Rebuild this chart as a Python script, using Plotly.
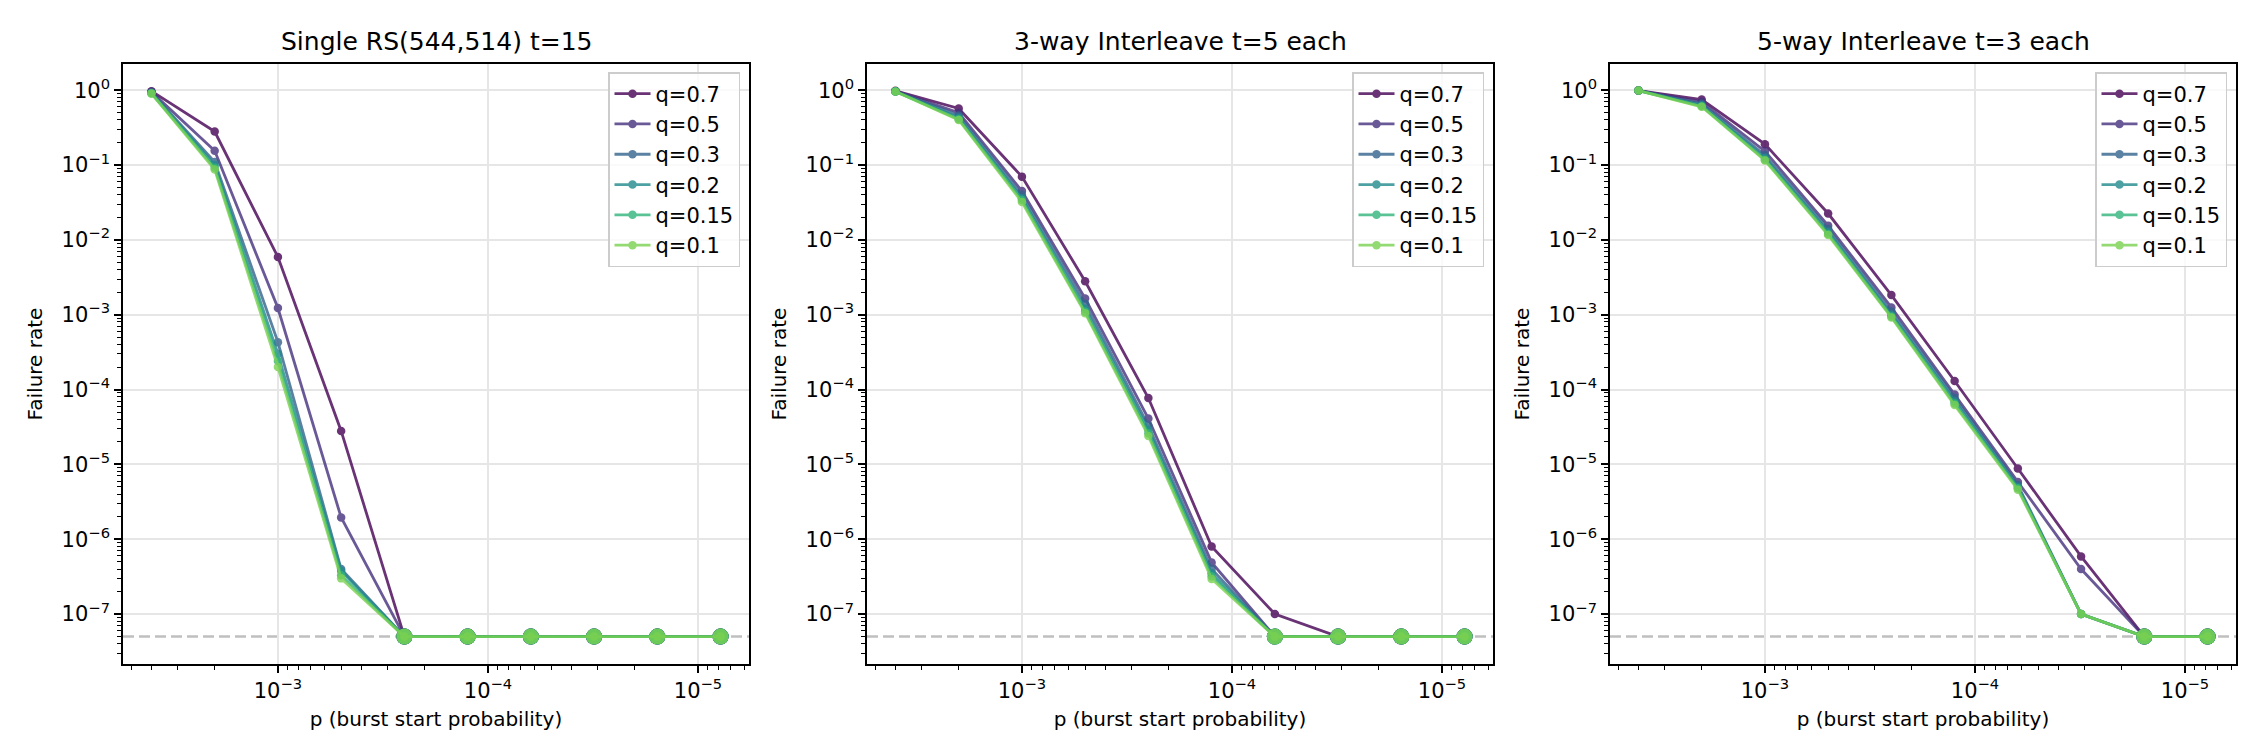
import numpy as np
import plotly.graph_objects as go

# burst start probability (halving each step)
p_vals = [4e-3, 2e-3, 1e-3, 5e-4, 2.5e-4, 1.25e-4, 6.25e-5, 3.125e-5, 1.5625e-5, 7.8125e-6]
q_labels = ["q=0.7", "q=0.5", "q=0.3", "q=0.2", "q=0.15", "q=0.1"]
q_colors = ["#440154", "#46307e", "#33638d", "#238a8d", "#31b57b", "#7ad151"]

FLOOR = 5e-8  # zero failures are drawn at this level

titles = ["Single RS(544,514) t=15", "3-way Interleave t=5 each", "5-way Interleave t=3 each"]

# failure rate, one list per q (0 = no failures observed)
single_q07 = [0.97, 0.28, 5.9e-3, 2.8e-5, 0, 0, 0, 0, 0, 0]
single_q05 = [0.95, 0.155, 1.23e-3, 1.95e-6, 0, 0, 0, 0, 0, 0]
single_q03 = [0.93, 0.11, 4.3e-4, 4e-7, 0, 0, 0, 0, 0, 0]
single_q02 = [0.92, 0.10, 3e-4, 3.8e-7, 0, 0, 0, 0, 0, 0]
single_q015 = [0.91, 0.092, 2.4e-4, 3.3e-7, 0, 0, 0, 0, 0, 0]
single_q01 = [0.90, 0.087, 2e-4, 3e-7, 0, 0, 0, 0, 0, 0]

il3_q07 = [0.98, 0.57, 0.07, 2.8e-3, 7.7e-5, 8e-7, 1e-7, 0, 0, 0]
il3_q05 = [0.97, 0.50, 0.045, 1.65e-3, 4.1e-5, 4.9e-7, 0, 0, 0, 0]
il3_q03 = [0.97, 0.46, 0.040, 1.4e-3, 3.3e-5, 4e-7, 0, 0, 0, 0]
il3_q02 = [0.96, 0.43, 0.036, 1.2e-3, 2.9e-5, 3.5e-7, 0, 0, 0, 0]
il3_q015 = [0.96, 0.41, 0.034, 1.1e-3, 2.6e-5, 3.2e-7, 0, 0, 0, 0]
il3_q01 = [0.96, 0.40, 0.032, 1.05e-3, 2.4e-5, 2.95e-7, 0, 0, 0, 0]

il5_q07 = [0.99, 0.75, 0.19, 0.0225, 1.83e-3, 1.3e-4, 8.8e-6, 5.9e-7, 0, 0]
il5_q05 = [0.99, 0.70, 0.153, 0.0155, 1.25e-3, 8.6e-5, 5.8e-6, 4e-7, 0, 0]
il5_q03 = [0.99, 0.66, 0.135, 0.014, 1.1e-3, 7.8e-5, 5.3e-6, 1e-7, 0, 0]
il5_q02 = [0.99, 0.63, 0.125, 0.0128, 1.0e-3, 7e-5, 5e-6, 1e-7, 0, 0]
il5_q015 = [0.99, 0.61, 0.118, 0.012, 9.5e-4, 6.5e-5, 4.8e-6, 1e-7, 0, 0]
il5_q01 = [0.99, 0.60, 0.115, 0.0116, 9.2e-4, 6.2e-5, 4.6e-6, 1e-7, 0, 0]

panels = [
    [single_q07, single_q05, single_q03, single_q02, single_q015, single_q01],
    [il3_q07, il3_q05, il3_q03, il3_q02, il3_q015, il3_q01],
    [il5_q07, il5_q05, il5_q03, il5_q02, il5_q015, il5_q01],
]

W, H = 2250, 750
ML, MR, MT, MB = 115, 22, 56, 94
PW = W - ML - MR
PH = H - MT - MB
# axes left/right edges in pixels
ax_px = [(115, 741), (859, 1485), (1602, 2228)]
domains = [[(a - ML) / PW, (b - ML) / PW] for a, b in ax_px]

FONT = "DejaVu Sans"

def sup(e):
    return "10<sup>" + ("\u2212" + str(-e) if e < 0 else str(e)) + "</sup>"

x_major = [1e-3, 1e-4, 1e-5]
x_minor = [k * 10.0 ** e for e in range(-6, -1) for k in range(2, 10)]
y_major = [10.0 ** e for e in range(0, -8, -1)]
y_minor = [k * 10.0 ** e for e in range(-8, 0) for k in range(2, 10)]

logp = np.log10(p_vals)
span = logp.max() - logp.min()
x_range = [logp.max() + 0.05 * span, logp.min() - 0.05 * span]
y_range = [-7.667, 0.35]

fig = go.Figure()

for i, series in enumerate(panels):
    n = "" if i == 0 else str(i + 1)
    lg = "legend" if i == 0 else "legend" + str(i + 1)
    for lab, col, vals in zip(q_labels, q_colors, series):
        v = np.array(vals, dtype=float)
        y = np.where(v > 0, v, FLOOR)
        fig.add_trace(go.Scatter(
            x=p_vals, y=y, mode="lines+markers", name=lab,
            line=dict(color=col, width=2.8), opacity=0.8,
            marker=dict(size=8.5, color=col),
            xaxis="x" + n, yaxis="y" + n, legend=lg))
        zero = v == 0
        fig.add_trace(go.Scatter(
            x=np.array(p_vals)[zero], y=np.full(zero.sum(), FLOOR), mode="markers",
            marker=dict(size=16, color=col), opacity=0.8, showlegend=False,
            xaxis="x" + n, yaxis="y" + n))

    axis_common = dict(type="log", showline=True, mirror=True, linecolor="black", linewidth=1.6,
                       ticks="outside", ticklen=7, tickwidth=1.6, tickcolor="black",
                       showgrid=True, gridcolor="#e6e6e6", gridwidth=1.6, zeroline=False,
                       automargin=False,
                       tickfont=dict(family=FONT, size=21, color="black"))
    fig.update_layout(**{
        "xaxis" + n: dict(axis_common, domain=domains[i], anchor="y" + n, range=x_range,
                          tickmode="array", tickvals=x_major,
                          ticktext=[sup(int(round(np.log10(t)))) for t in x_major],
                          minor=dict(ticks="outside", ticklen=4, tickwidth=1.2, tickcolor="black",
                                     tickvals=x_minor, showgrid=False),
                          title=dict(text="p (burst start probability)", standoff=10,
                                     font=dict(family=FONT, size=20, color="black"))),
        "yaxis" + n: dict(axis_common, domain=[0, 1], anchor="x" + n, range=y_range,
                          tickmode="array", tickvals=y_major,
                          ticktext=[sup(int(round(np.log10(t)))) for t in y_major],
                          minor=dict(ticks="outside", ticklen=4, tickwidth=1.2, tickcolor="black",
                                     tickvals=y_minor, showgrid=False),
                          title=dict(text="Failure rate", standoff=14,
                                     font=dict(family=FONT, size=20, color="black"))),
        lg: dict(x=domains[i][1] - 9 / PW, y=1 - 8 / PH, xref="paper", yref="paper",
                 xanchor="right", yanchor="top", bgcolor="rgba(255,255,255,0.8)",
                 bordercolor="#cccccc", borderwidth=1.5, itemwidth=36,
                 font=dict(family=FONT, size=21, color="black"), tracegroupgap=0),
    })
    fig.add_shape(type="line", xref="x" + n + " domain", yref="y" + n, x0=0, x1=1,
                  y0=FLOOR, y1=FLOOR, line=dict(color="rgba(128,128,128,0.5)", width=2.5, dash="11px,5px"),
                  layer="below")
    fig.add_annotation(text=titles[i], xref="paper", yref="paper", showarrow=False,
                       x=(domains[i][0] + domains[i][1]) / 2, y=1, xanchor="center",
                       yanchor="bottom", yshift=6,
                       font=dict(family=FONT, size=25, color="black"))

fig.update_layout(width=W, height=H, margin=dict(l=ML, r=MR, t=MT, b=MB, autoexpand=False),
                  paper_bgcolor="white", plot_bgcolor="white",
                  font=dict(family=FONT, color="black"))

fig.write_html("out.html")
